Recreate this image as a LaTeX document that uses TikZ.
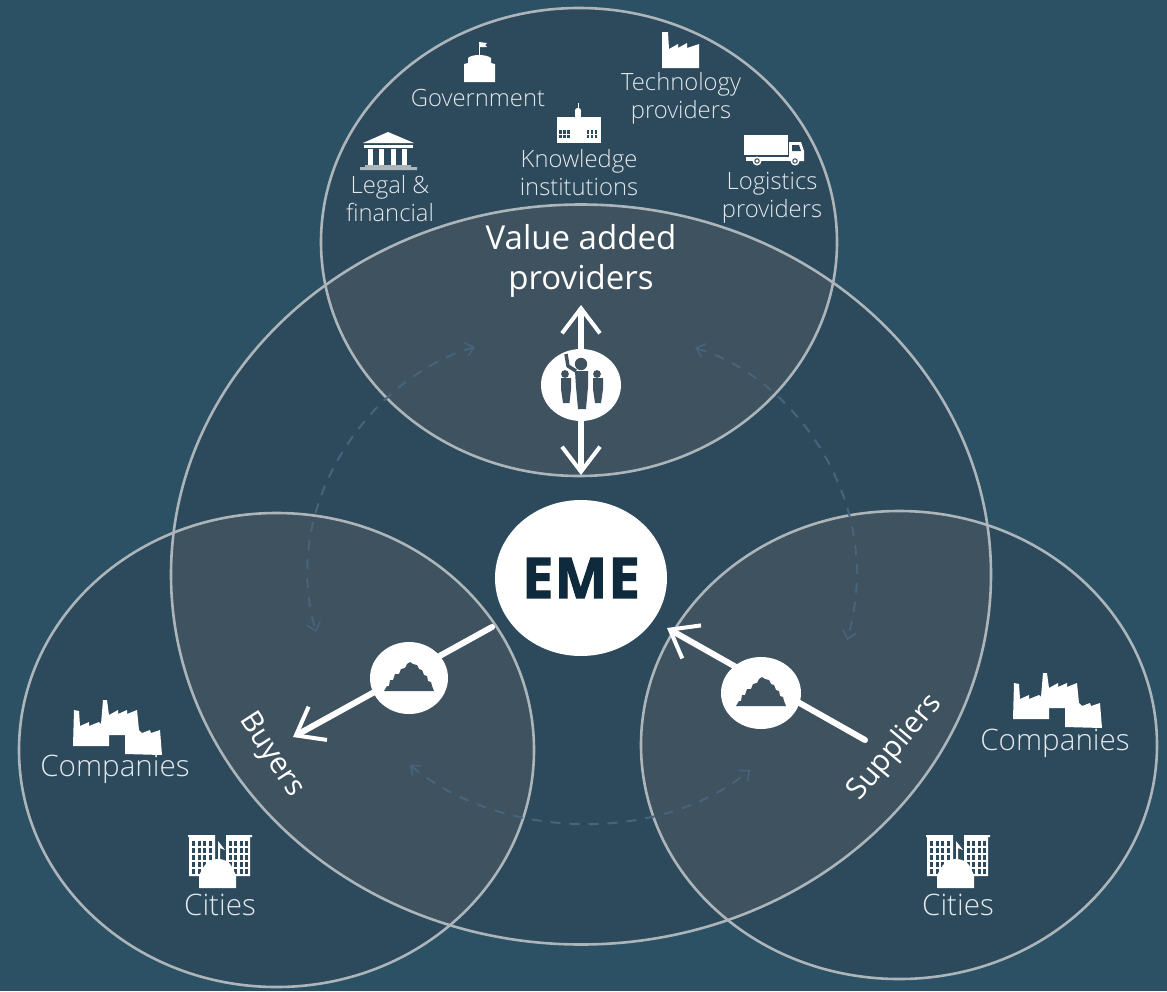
\documentclass[tikz,border=0pt]{standalone}
\usepackage{fontspec}
\setmainfont{Open Sans Light}
\newfontfamily\midfont{Open Sans}
\newfontfamily\emefont[FakeBold=2,LetterSpace=2]{Open Sans Bold}
\usetikzlibrary{arrows.meta, positioning, shapes.geometric}
\definecolor{bgblue}{RGB}{44,81,101}
\definecolor{petaldark}{RGB}{45,73,92}
\definecolor{lensgrey}{RGB}{63,82,95}
\definecolor{ringgrey}{RGB}{172,181,186}
\definecolor{dashblue}{RGB}{70,100,124}
\definecolor{labelgrey}{RGB}{226,232,235}
\definecolor{emeink}{RGB}{14,42,60}

\tikzset{
    ring/.style={draw=ringgrey, line width=2.6pt},
    smalllabel/.style={font=\fontsize{23.8}{28}\selectfont, text=labelgrey, align=center, inner sep=0pt},
    biglabel/.style={font=\fontsize{29.6}{34}\selectfont, text=labelgrey, align=center, inner sep=0pt},
    mainlabel/.style={font=\midfont\fontsize{33}{40}\selectfont, text=white, align=center, inner sep=0pt},
    sidelabel/.style={font=\midfont\fontsize{29.5}{34}\selectfont, text=white, inner sep=0pt},
    flow/.style={draw=white, line width=6pt, line cap=round,
        -{Straight Barb[length=25pt, width=38pt, line width=4pt]}},
    loopflow/.style={draw=dashblue, line width=2pt, dash pattern=on 10pt off 9pt,
        {Straight Barb[length=8pt, width=14pt, line width=1.5pt]}-{Straight Barb[length=8pt, width=14pt, line width=1.5pt]}},
    % single factory, origin is top left of the icon
    factory/.pic={
        \fill[white] (0,36) -- (0,0) -- (6,0) -- (7,17) -- (16,12) -- (16,16) -- (25,11) -- (25,16)
            -- (37,12) -- (37,36) -- cycle;
    },
    % double factory
    twinfactory/.pic={
        \fill[white] (1,47) -- (2,11) -- (7,12) -- (8,27) -- (17,23) -- (17,27) -- (27,23) -- (29,25)
            -- (31,1) -- (35,1) -- (37,16) -- (46,11) -- (46,15) -- (55,11) -- (55,15) -- (65,11)
            -- (67,31) -- (70,34) -- (78,31) -- (79,34) -- (88,31) -- (90,56) -- (53,55) -- (53,36)
            -- (37,36) -- (37,47) -- cycle;
    },
    city/.pic={
        \fill[white] (0,0) rectangle (27,2) (38,0) rectangle (64,2);
        \fill[white] (1,2) rectangle (27,41) (38,2) rectangle (62,41);
        \foreach \i in {0,1,2,3} \foreach \j in {0,1,2,3,4} {
            \fill[petaldark] (4+5.5*\i,6+7*\j) rectangle +(3.2,4.6);
            \fill[petaldark] (40.5+5.5*\i,6+7*\j) rectangle +(3.2,4.6);
        }
        \fill[white] (30,6) -- (30,24) -- (32,24) -- (32,13) -- (37,15) -- cycle;
        \fill[white] (11,53) -- (11,40) -- (17,30) .. controls (23,22) and (37,22) .. (43,30)
            -- (48,40) -- (48,53) -- cycle;
    },
    govt/.pic={
        \fill[white] (0,40) -- (0,22) -- (4,21) -- (4,16) .. controls (8,12) and (22,12) .. (27,16)
            -- (27,21) -- (31,22) -- (31,40) -- cycle;
        \draw[white, line width=1pt] (15,13) -- (15,0);
        \fill[white] (15,0) -- (23,1) -- (21,3) -- (23,5) -- (15,5) -- cycle;
    },
    school/.pic={
        \fill[white] (1,14) rectangle (45,40);
        \fill[white] (19,15) rectangle (25,8);
        \fill[white] (22,8) circle (3.2);
        \draw[white, line width=.5pt] (22,6) -- (22,0);
        \foreach \i in {0,1,2} \foreach \j in {0,1} {
            \fill[petaldark] (3+4*\i,27+4.5*\j) rectangle +(2.8,3.5);
            \fill[petaldark] (30.5+4*\i,27+4.5*\j) rectangle +(2.8,3.5);
        }
    },
    temple/.pic={
        \fill[white] (3,12) -- (28,1) -- (54,12) -- cycle;
        \fill[white] (4,14) rectangle (53,17);
        \foreach \c in {8,19,31,42} \fill[white] (\c,18) rectangle +(5,16);
        \fill[ringgrey] (5,34) rectangle (51,36) (0,36) rectangle (57,39);
    },
    truck/.pic={
        \fill[white] (0,0) rectangle (44,20);
        \fill[white] (2,22) rectangle (60,26);
        \fill[white] (45,7) -- (57,7) -- (60,16) -- (60,26) -- (45,26) -- cycle;
        \fill[petaldark] (48,10) -- (55,10) -- (57,16) -- (48,16) -- cycle;
        \fill[white] (13,26) circle (4.5) (51,26) circle (4.5);
        \draw[petaldark, line width=1pt] (13,26) circle (2.2) (51,26) circle (2.2);
    },
    people/.pic={
        \fill[lensgrey] (0,-21) circle (6.2);
        \fill[lensgrey] (-6,-14) -- (7,-14) -- (7,2) -- (5,24) -- (-3,24) -- (-5,2) -- cycle;
        \draw[lensgrey, line width=3.5pt, line join=round] (-5,-14) -- (-13,-19) -- (-15,-31);
        \fill[lensgrey] (-16,-11) circle (3.9) (16,-11) circle (3.9);
        \fill[lensgrey] (-20,-7) -- (-10,-7) -- (-10,4) -- (-11.5,18) -- (-18,18) -- (-20,4) -- cycle;
        \fill[lensgrey] (12,-7) -- (22,-7) -- (22,4) -- (20,18) -- (14,18) -- (12,4) -- cycle;
    },
    burst/.pic={
        \fill[lensgrey] (-25,13) -- (-22,8) -- (-20,8) -- (-19,2) -- (-16,2) -- (-14,-4) -- (-10,-4)
            -- (-8,-9) -- (-4,-10) -- (-2,-14) -- (1,-16) -- (4,-14) -- (8,-13) -- (10,-9) -- (13,-8)
            -- (15,-3) -- (18,-2) -- (19,3) -- (22,4) -- (23,8) -- (25,13) -- cycle;
    },
    whitedot/.style={ellipse, fill=white, minimum width=80pt, minimum height=72pt, inner sep=0pt}
}

\begin{document}
\begin{tikzpicture}[x=1pt, y=-1pt]
    \useasboundingbox (0,0) rectangle (1167,991);
    \fill[bgblue] (0,0) rectangle (1167,991);

    % the four circles
    \def\toppetal{(579,242) ellipse [x radius=258, y radius=234]}
    \def\midpetal{(581,574.5) ellipse [x radius=410, y radius=370]}
    \def\leftpetal{(276.5,750) ellipse [x radius=257.5, y radius=237]}
    \def\rightpetal{(899,745) ellipse [x radius=258, y radius=234]}
    \fill[petaldark] \toppetal \midpetal \leftpetal \rightpetal;
    \begin{scope}
        \clip \midpetal;
        \fill[lensgrey] \toppetal \leftpetal \rightpetal;
    \end{scope}
    \draw[ring] \toppetal;
    \draw[ring] \midpetal;
    \draw[ring] \leftpetal;
    \draw[ring] \rightpetal;

    % dashed loop
    \coordinate (loopa) at (475,347);
    \coordinate (loopb) at (316,632);
    \coordinate (loopc) at (695,348);
    \coordinate (loopd) at (847,640);
    \coordinate (loope) at (410,765);
    \coordinate (loopf) at (750,770);
    \draw[loopflow] (loopa) .. controls (375,375) and (278,500) .. (loopb);
    \draw[loopflow] (loopc) .. controls (790,375) and (888,500) .. (loopd);
    \draw[loopflow] (loope) .. controls (500,840) and (660,845) .. (loopf);

    % centre and arrows
    \node[ellipse, fill=white, minimum width=172pt, minimum height=156pt, inner sep=0pt,
        font=\emefont\fontsize{56}{56}\selectfont, text=emeink] (eme) at (581,578) {EME};
    \coordinate (vapup) at (581,305);
    \coordinate (vapdown) at (581,475);
    \coordinate (buyend) at (293,737);
    \coordinate (buystart) at (492,627);
    \coordinate (supstart) at (865,740);
    \coordinate (supend) at (667,628);
    \coordinate (vapmid) at (581,385);
    \draw[flow] (vapmid) -- (vapup);
    \draw[flow] (vapmid) -- (vapdown);
    \draw[flow] (buystart) -- (buyend);
    \draw[flow] (supstart) -- (supend);
    \node[whitedot] (vapdot) at (vapmid) {};
    \node[whitedot, minimum width=78pt] (buydot) at (409,678) {};
    \node[whitedot] (supdot) at (761,693) {};
    \pic at (vapdot) {people};
    \pic at (buydot) {burst};
    \pic at (supdot) {burst};

    % icons
    \pic at (662,32) {factory};
    \pic at (464,42) {govt};
    \pic at (556,103) {school};
    \pic at (360,131) {temple};
    \pic at (744,135) {truck};
    \pic at (72,699) {twinfactory};
    \pic at (1012,672) {twinfactory};
    \pic at (188,835) {city};
    \pic at (926,835) {city};

    % labels
    \node[smalllabel] (govlabel) at (478,98) {Government};
    \node[smalllabel] (techlabel) at (681,98) {Technology\\providers};
    \node[smalllabel] (knowlabel) at (579,173) {Knowledge\\institutions};
    \node[smalllabel] (legallabel) at (390,199) {Legal \&\\financial};
    \node[smalllabel] (logilabel) at (772,198) {Logistics\\providers};
    \node[biglabel] (comlabel) at (115,769) {Companies};
    \node[biglabel] (comlabelb) at (1055,743) {Companies};
    \node[biglabel] (citylabel) at (220,905) {Cities};
    \node[biglabel] (citylabelb) at (958,905) {Cities};
    \node[mainlabel] (vaplabel) at (581,261) {Value added\\providers};
    \node[sidelabel, rotate=-57] (buylabel) at (271,755) {Buyers};
    \node[sidelabel, rotate=50] (suplabel) at (895,748) {Suppliers};
\end{tikzpicture}
\end{document}
